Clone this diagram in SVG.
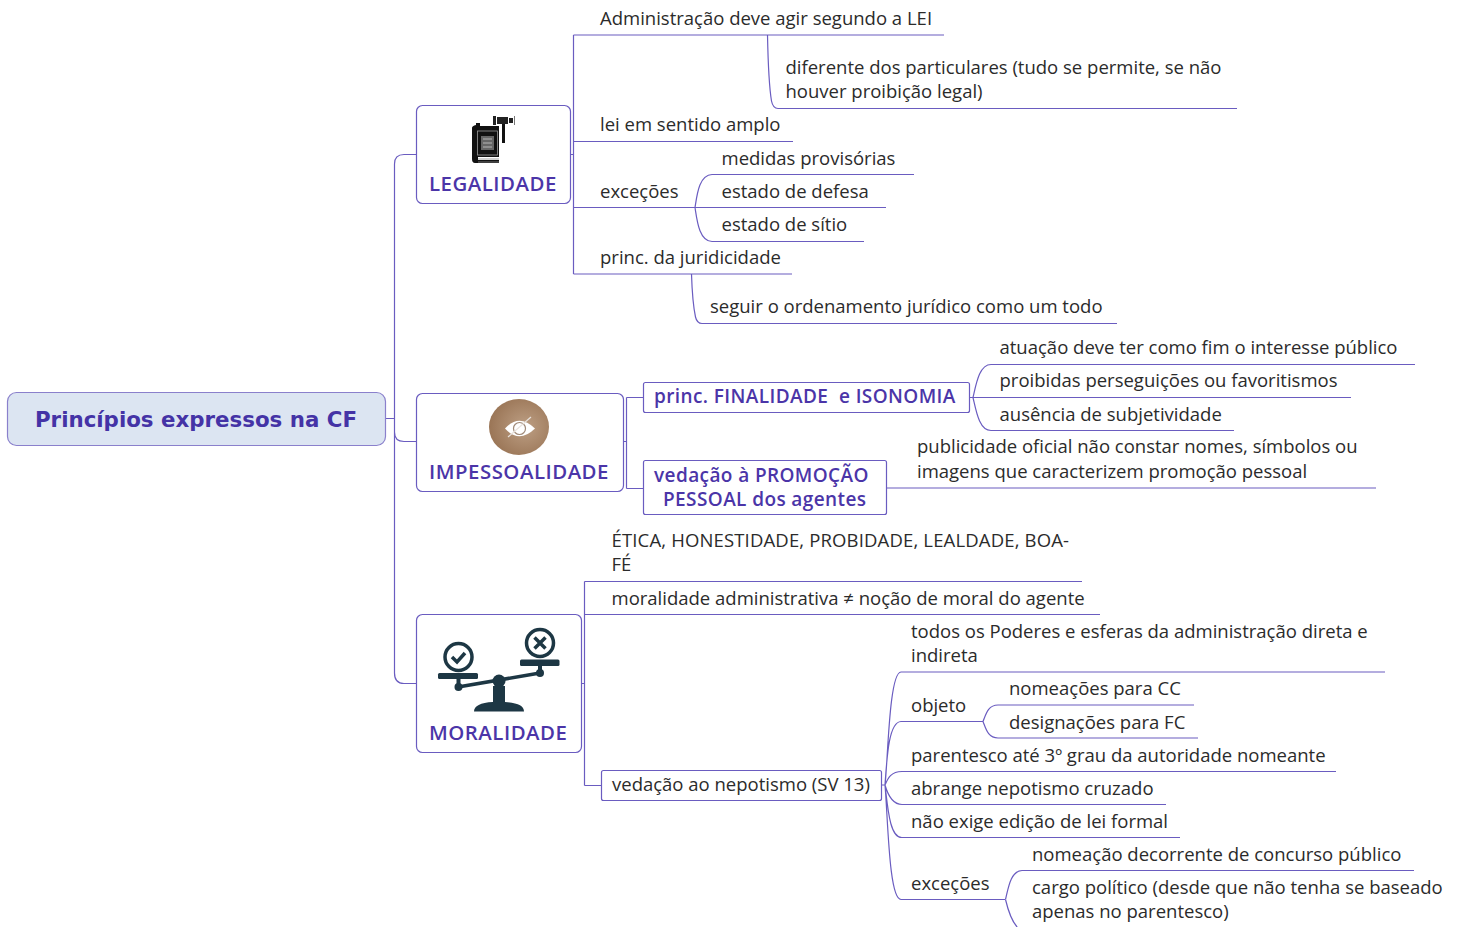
<svg xmlns="http://www.w3.org/2000/svg" width="1458" height="927" viewBox="0 0 1458 927">
<defs>
<style>
.t{font-family:"Open Sans","Noto Sans",sans-serif;font-size:18.5px;fill:#2b2b2b}
.h{font-family:"Open Sans","Noto Sans",sans-serif;font-size:20.4px;letter-spacing:.5px;fill:#4b35a8;font-weight:600}
.b{font-family:"Open Sans","Noto Sans",sans-serif;font-size:19px;letter-spacing:.4px;fill:#4b35a8;font-weight:600}
.l{fill:none;stroke:#6a5cc0;stroke-width:1.2}
.n{fill:#fff;stroke:#6a5cc0;stroke-width:1.2}
.d{fill:#1d3744}
</style>
<radialGradient id="br" cx="0.6" cy="0.5" r="0.6"><stop offset="0" stop-color="#bd9f84"/><stop offset="1" stop-color="#9a7556"/></radialGradient>
</defs>
<rect width="1458" height="927" fill="#fff"/>
<g id="connectors" class="l">
<path d="M385.500 418.500H394.500M416.500 154.500H404Q394.500 154.500 394.500 164V673Q394.500 683.500 404 683.500H416.500M394.500 432Q394.500 441.500 404 441.500H416.500"/>
<path d="M570.500 154.500H573.500M573.500 35V274M573.500 35H944M573.500 141.500H793M573.500 207.500H695M573.500 274H792"/>
<path d="M767.500 35C768 60 770 92 771.500 101Q773 108.500 778 108.500H1237"/>
<path d="M695 207.500C697 195 699 175 712 174.500H914M695 207.500H886M695 207.500C697 220 699 241 712 241.500H864"/>
<path d="M691.500 274C692 290 694 310 695.500 317Q697 323.500 702 323.500H1117"/>
<path d="M623.500 441.500H626.500M626.500 397.500V488.500M626.500 397.500H643.500M626.500 488.500H643.500"/>
<path d="M970 397.500H973C976 385 979 364.500 991 364.500H1415M973 397.500H1351M973 397.500C976 410 979 430.500 991 430.500H1234"/>
<path d="M886.500 488H1376"/>
<path d="M581.500 683.500H584.500M584.500 581.500V785.500M584.500 581.500H1082M584.500 614.500H1100M584.500 785.500H601.500"/>
<path d="M881.500 785H885C888 760 889 672.500 901 672H1385M885 785C887 755 889 722 901 721.500H983M885 785C888 778 891 771.500 902 771.500H1336M885 785C887 792 891 804.500 902 804.500H1166M885 785C888 810 890 838 902 837.500H1180M885 785C888 820 889 899.500 901 899.500H1005"/>
<path d="M983 721.500C986 714 988 705 998 705H1194M983 721.500C986 729 988 738 998 738H1198"/>
<path d="M1005.500 899.500C1008 890 1010 871 1022 870.500H1414M1005.500 899.500C1008 910 1012 922 1018 928"/>
</g>
<g id="root"><rect x="7.500" y="392.500" width="378" height="53" rx="9" fill="#dce5f2" stroke="#8a80cc" stroke-width="1.200"/><text x="196" y="426.500" text-anchor="middle" style="font-family:'DejaVu Sans',Verdana,sans-serif;font-weight:700;font-size:21.350px;fill:#4433a6">Princípios expressos na CF</text></g>
<g id="legalidade"><rect class="n" x="416.500" y="105.500" width="154" height="98" rx="6"/>
<path d="M472 128Q472 126 476 125V123H480V126H499V157H478V160H499V163H475Q472 163 472 159z" fill="#111"/><rect x="477.500" y="131" width="20" height="24" fill="none" stroke="#999" stroke-width="0.800"/><rect x="481" y="136" width="13" height="14" fill="#666"/><path d="M483 139h9M483 143h9M483 147h9" stroke="#ccc" stroke-width="0.800"/><path d="M478 159h21M478 162h21" stroke="#888" stroke-width="0.800"/><rect x="502" y="122" width="3" height="21" fill="#111"/><path d="M493 116h3v9h-3zM497 117h11v7h-11zM509 118h4v5h-4z" fill="#222"/><path d="M514.500 116v9" stroke="#777"/><text class="h" x="429" y="191">LEGALIDADE</text></g>
<g id="impessoalidade"><rect class="n" x="416.500" y="393.500" width="207" height="98" rx="6"/>
<ellipse cx="519" cy="427" rx="30" ry="28" fill="url(#br)"/><path d="M505 428.500Q519 413 535 428.500Q519 444 505 428.500z" fill="#fff"/><circle cx="519.500" cy="428.500" r="6" fill="none" stroke="#a08a78" stroke-width="1.200"/><path d="M508 437L531 417" stroke="#e8e2dc" stroke-width="1.200"/><text class="h" x="429" y="479">IMPESSOALIDADE</text></g>
<g id="moralidade"><rect class="n" x="416.500" y="614.500" width="165" height="138" rx="6"/>
<circle cx="458.500" cy="657" r="13.500" fill="none" stroke="#1d3744" stroke-width="3.500"/><path d="M452 657l5 5 8-9" fill="none" stroke="#1d3744" stroke-width="3.500"/>
<circle cx="540" cy="643" r="13.500" fill="none" stroke="#1d3744" stroke-width="3.500"/><path d="M534.500 637.500l11 11M545.500 637.500l-11 11" stroke="#1d3744" stroke-width="3.500"/>
<rect class="d" x="438" y="673" width="40" height="6" rx="1.500"/><rect class="d" x="520" y="659.500" width="39.500" height="6.500" rx="1.500"/><path d="M458 687L540 673" stroke="#1d3744" stroke-width="3.500"/><rect class="d" x="456.500" y="678" width="4" height="9"/><rect class="d" x="538" y="665" width="4" height="8"/><circle class="d" cx="458.500" cy="687" r="4"/><circle class="d" cx="540" cy="673" r="4"/><circle class="d" cx="499" cy="681" r="6.500"/><path class="d" d="M474 711.500Q474 703 493 702V686H505V702Q524 703 524 711.500z"/><text class="h" x="429" y="740">MORALIDADE</text></g>
<g id="n1"><rect class="n" x="643.500" y="382.500" width="326" height="30" rx="2"/><text class="b" x="654" y="403" xml:space="preserve">princ. FINALIDADE  e ISONOMIA</text></g>
<g id="n2"><rect class="n" x="643.500" y="460.500" width="243" height="54" rx="2"/><text class="b" x="654" y="481.500">vedação à PROMOÇÃO</text><text class="b" x="663" y="505.500">PESSOAL dos agentes</text></g>
<g id="n3"><rect class="n" x="601.500" y="770.500" width="280" height="30" rx="2"/><text class="t" x="612" y="791">vedação ao nepotismo (SV 13)</text></g>
<g id="labels" class="t">
<text x="600" y="25">Administração deve agir segundo a LEI</text>
<text x="785.500" y="74">diferente dos particulares (tudo se permite, se não</text>
<text x="785.500" y="98">houver proibição legal)</text>
<text x="600" y="131">lei em sentido amplo</text>
<text x="721.500" y="164.500">medidas provisórias</text>
<text x="600" y="198">exceções</text>
<text x="721.500" y="198">estado de defesa</text>
<text x="721.500" y="231">estado de sítio</text>
<text x="600" y="264">princ. da juridicidade</text>
<text x="710" y="313">seguir o ordenamento jurídico como um todo</text>
<text x="999.500" y="354">atuação deve ter como fim o interesse público</text>
<text x="999.500" y="387">proibidas perseguições ou favoritismos</text>
<text x="999.500" y="420.500">ausência de subjetividade</text>
<text x="917" y="453">publicidade oficial não constar nomes, símbolos ou</text>
<text x="917" y="478">imagens que caracterizem promoção pessoal</text>
<text x="611.500" y="547" style="letter-spacing:.15px">ÉTICA, HONESTIDADE, PROBIDADE, LEALDADE, BOA-</text>
<text x="611.500" y="571">FÉ</text>
<text x="611.500" y="604.500">moralidade administrativa ≠ noção de moral do agente</text>
<text x="911" y="638">todos os Poderes e esferas da administração direta e</text>
<text x="911" y="662">indireta</text>
<text x="1009" y="695">nomeações para CC</text>
<text x="911" y="712">objeto</text>
<text x="1009" y="728.500">designações para FC</text>
<text x="911" y="761.500">parentesco até 3º grau da autoridade nomeante</text>
<text x="911" y="794.500">abrange nepotismo cruzado</text>
<text x="911" y="828">não exige edição de lei formal</text>
<text x="1032" y="861">nomeação decorrente de concurso público</text>
<text x="911" y="890">exceções</text>
<text x="1032" y="894">cargo político (desde que não tenha se baseado</text>
<text x="1032" y="918">apenas no parentesco)</text>
</g>
</svg>
